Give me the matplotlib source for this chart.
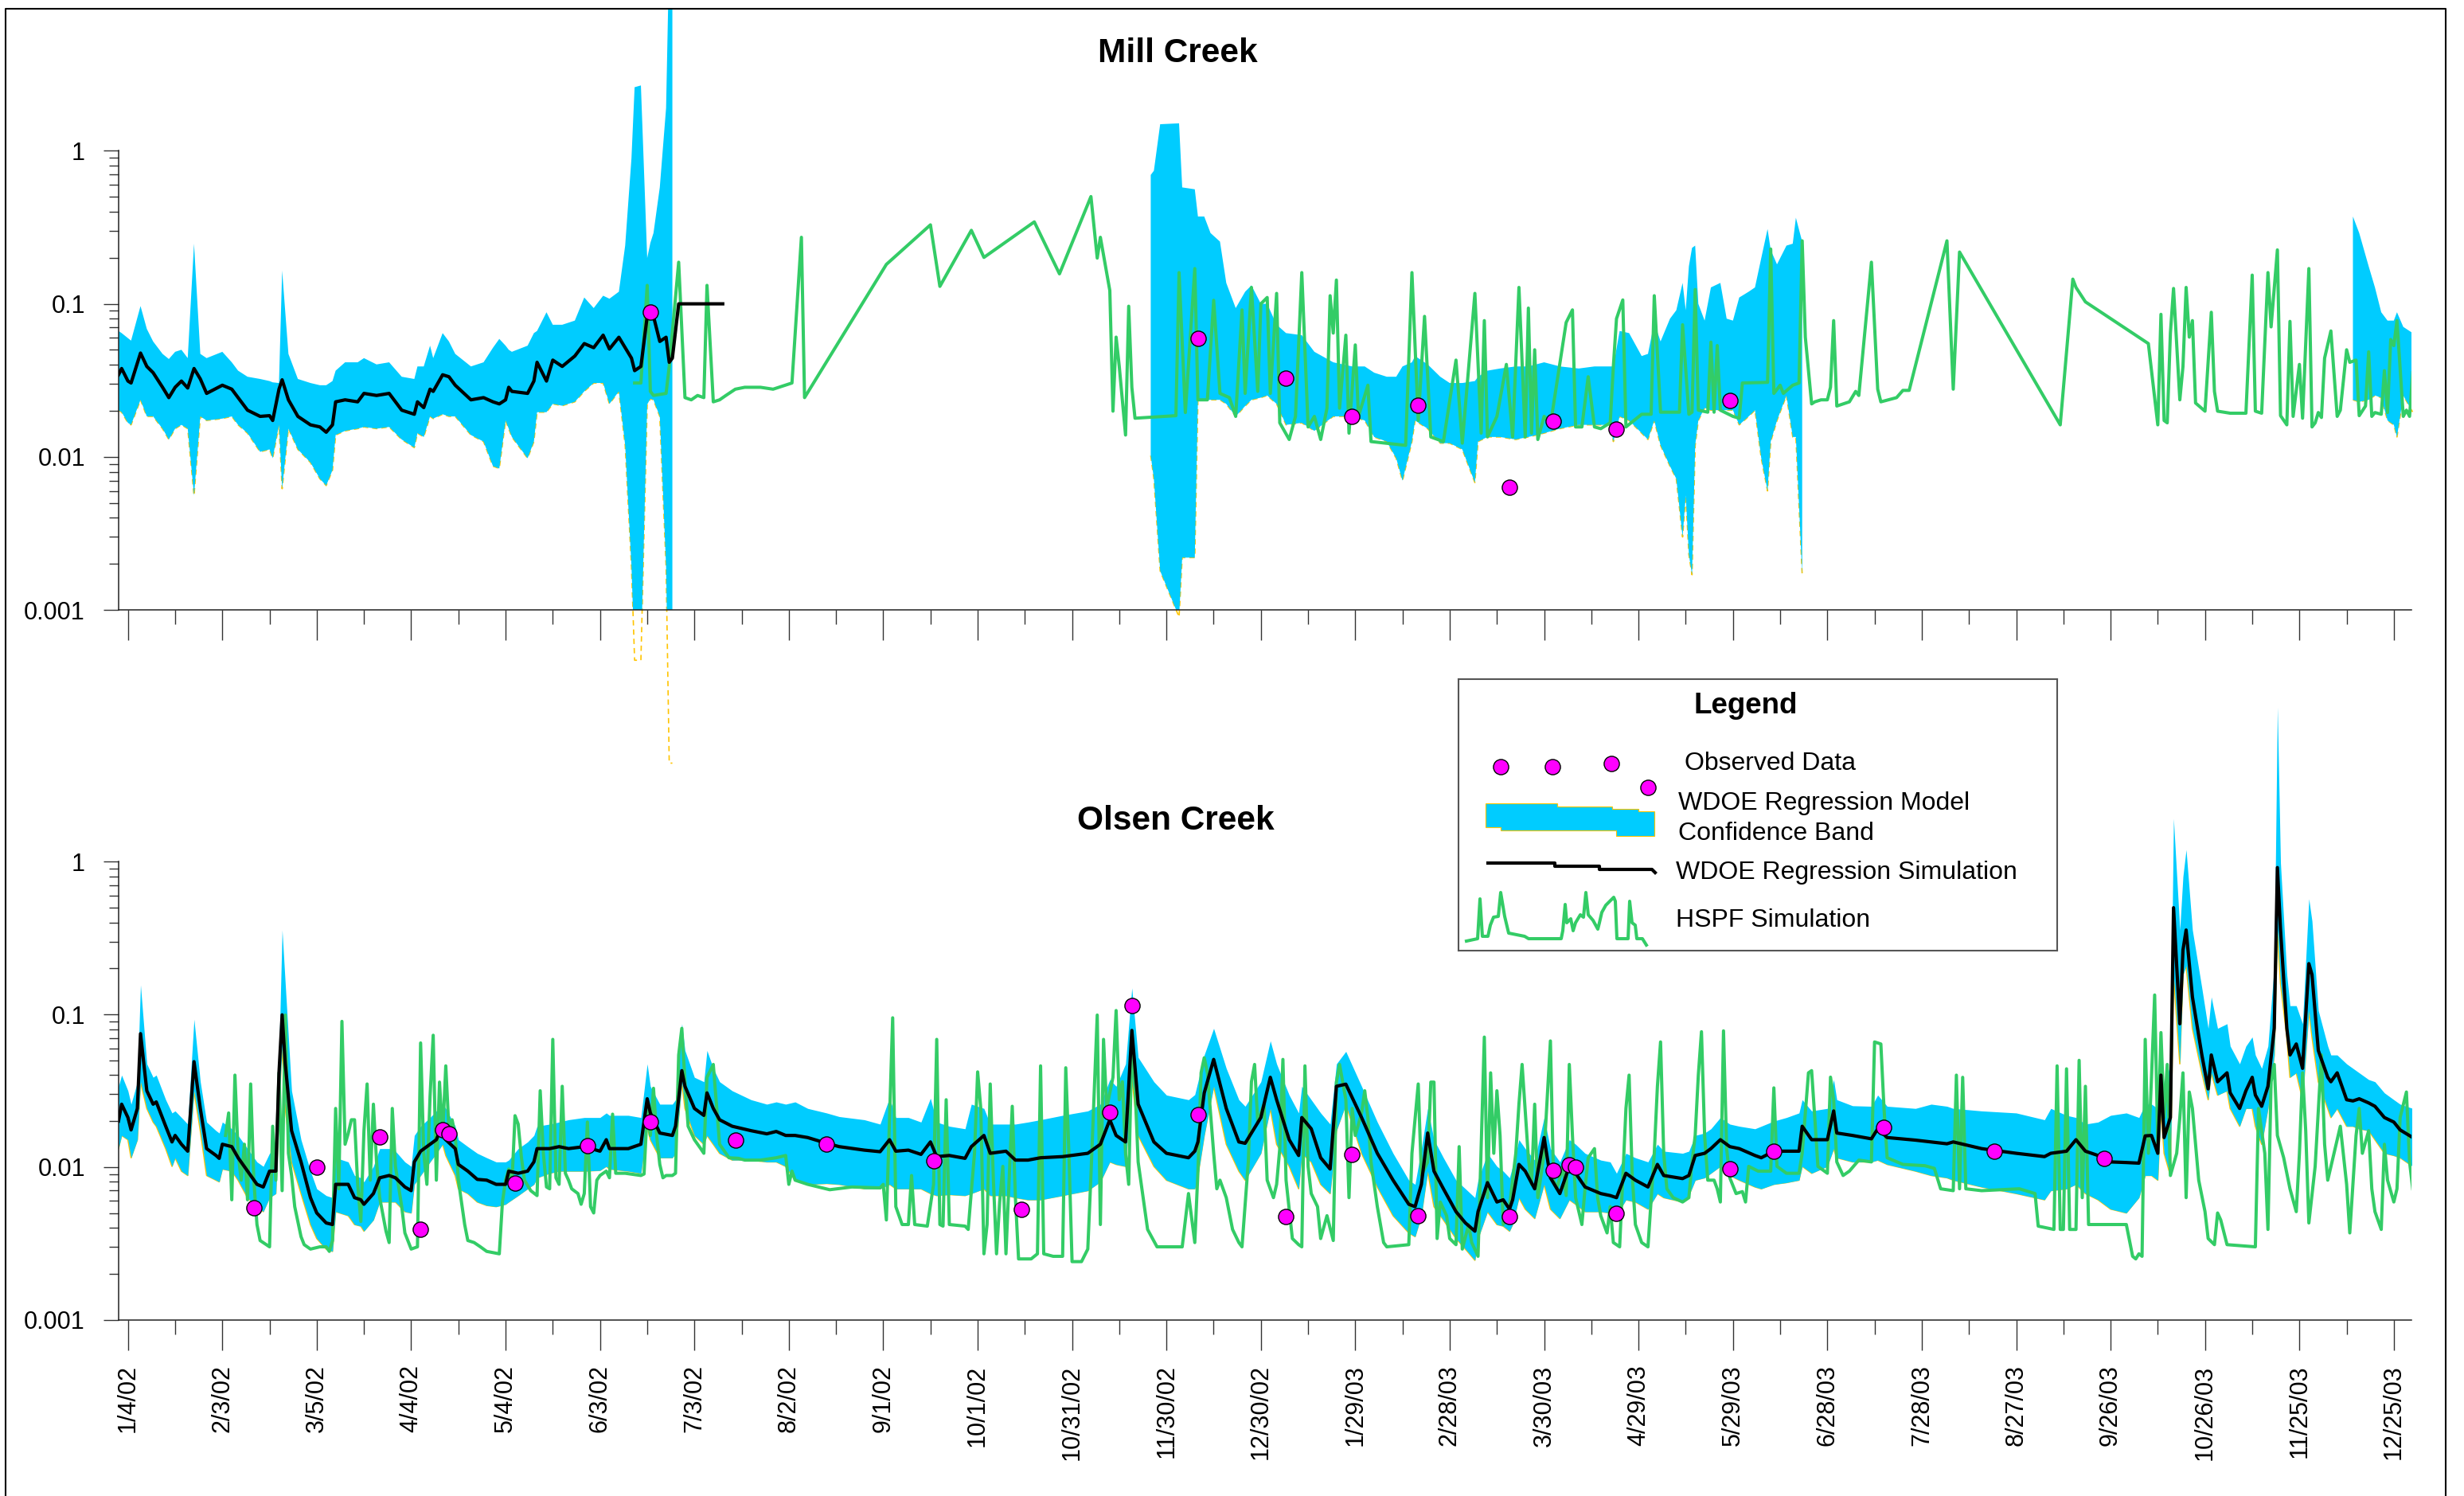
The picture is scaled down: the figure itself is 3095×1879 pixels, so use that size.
import numpy as np
import matplotlib
matplotlib.use("Agg")
import matplotlib.pyplot as plt
from matplotlib.lines import Line2D
from matplotlib.patches import Polygon
from matplotlib.ticker import FixedLocator, NullFormatter

plt.rcParams['font.family'] = ['Liberation Sans', 'DejaVu Sans']

# ---- data (x = days after 1/4/02) ----
X_TICK_DAYS = list(range(0, 721, 30))
X_TICK_LABELS = ['1/4/02', '2/3/02', '3/5/02', '4/4/02', '5/4/02', '6/3/02', '7/3/02',
                 '8/2/02', '9/1/02', '10/1/02', '10/31/02', '11/30/02', '12/30/02',
                 '1/29/03', '2/28/03', '3/30/03', '4/29/03', '5/29/03', '6/28/03',
                 '7/28/03', '8/27/03', '9/26/03', '10/26/03', '11/25/03', '12/25/03']
Y_TICKS = [0.001, 0.01, 0.1, 1]
Y_TICK_LABELS = ['0.001', '0.01', '0.1', '1']

# Mill Creek, regression band + simulation (first part of record)
MILL_DAYS = [-3, -2, 0, 1, 4, 6, 8, 11, 13, 15,
             17, 19, 21, 23, 25, 30, 33, 35, 38, 42,
             45, 46, 48, 49, 51, 54, 58, 61, 63, 65,
             66, 69, 73, 75, 79, 83, 87, 91, 92, 94,
             96, 97, 100, 102, 104, 109, 113, 116, 118, 120,
             121, 122, 127, 129, 130, 133, 135, 138, 142, 145,
             148, 151, 153, 156, 158, 160, 161, 163, 165, 166,
             167, 169, 171, 172, 173]
MILL_HI = [0.0665, 0.0644, 0.0597, 0.0575, 0.0967, 0.0686, 0.0568, 0.0471, 0.0436, 0.0486,
           0.0501, 0.0442, 0.247, 0.0471, 0.0442, 0.0486, 0.0415, 0.0366, 0.0334, 0.0323,
           0.0313, 0.0307, 0.0304, 0.165, 0.0471, 0.0323, 0.0304, 0.0294, 0.0294, 0.0313,
           0.0366, 0.0415, 0.0415, 0.0442, 0.0402, 0.0415, 0.0334, 0.0323, 0.039, 0.039,
           0.0533, 0.0442, 0.0644, 0.0568, 0.0471, 0.039, 0.0415, 0.0517, 0.059, 0.0533,
           0.0501, 0.0486, 0.0533, 0.0644, 0.0665, 0.0881, 0.073, 0.073, 0.0777, 0.11,
           0.0938, 0.113, 0.108, 0.12, 0.24, 0.893, 2.6, 2.67, 0.199, 0.25,
           0.29, 0.576, 1.9, 20, 20]
MILL_SIM = [0.0344, 0.0378, 0.0313, 0.0304, 0.0477, 0.039, 0.0355, 0.0285, 0.0244, 0.0285,
            0.0313, 0.0282, 0.0378, 0.0323, 0.026, 0.0294, 0.0277, 0.0244, 0.0202, 0.0184,
            0.0186, 0.0173, 0.0277, 0.0319, 0.0236, 0.0184, 0.0162, 0.0157, 0.0145, 0.0162,
            0.0229, 0.0236, 0.0229, 0.026, 0.0252, 0.026, 0.0202, 0.019, 0.0229, 0.021,
            0.0277, 0.0268, 0.0344, 0.0334, 0.0294, 0.0236, 0.0244, 0.0229, 0.0222, 0.0236,
            0.0285, 0.0268, 0.026, 0.0313, 0.0415, 0.0313, 0.0429, 0.039, 0.0456, 0.055,
            0.0517, 0.0624, 0.0507, 0.0605, 0.0517, 0.0442, 0.0366, 0.039, 0.0828, 0.087,
            0.0828, 0.0568, 0.0605, 0.0415, 0.0442]
MILL_LO = [0.0202, 0.0196, 0.0167, 0.0162, 0.0236, 0.0184, 0.0184, 0.0153, 0.013, 0.0153,
           0.0162, 0.0153, 0.0056, 0.0184, 0.0173, 0.0178, 0.0184, 0.0162, 0.0143, 0.0108,
           0.0112, 0.0098, 0.0162, 0.0062, 0.0153, 0.0112, 0.0092, 0.0072, 0.0065, 0.0082,
           0.0139, 0.0148, 0.0153, 0.0157, 0.0153, 0.0157, 0.013, 0.0115, 0.0143, 0.0135,
           0.0184, 0.0178, 0.019, 0.0184, 0.0184, 0.0139, 0.0126, 0.0087, 0.0084, 0.0173,
           0.0153, 0.0135, 0.0098, 0.0126, 0.0196, 0.0196, 0.0222, 0.0216, 0.0229, 0.0268,
           0.0304, 0.0304, 0.0222, 0.0268, 0.0119, 0.00193, 0.00047, 0.00047, 0.022, 0.024,
           0.0236, 0.0184, 0.00193, 0.0001, 0.0001]
MILL_SIM_TAIL_DAYS = [175, 189]
MILL_SIM_TAIL = [0.1, 0.1]

# Mill Creek, regression band (later parts of record)
MILL_BAND2_DAYS = [325, 326, 328, 334, 335, 339, 340, 342, 344, 347,
                   349, 352, 355, 357, 360, 362, 365, 368, 373, 377,
                   383, 389, 393, 396, 400, 403, 405, 408, 409, 413,
                   417, 420, 424, 428, 429, 432, 436, 441, 445, 450,
                   455, 461, 466, 471, 472, 474, 477, 481, 483, 485,
                   487, 490, 492, 494, 495, 496, 497, 498, 499, 501,
                   503, 506, 508, 510, 512, 515, 517, 519, 521, 522,
                   524, 527, 529, 530, 532]
MILL_BAND2_HI = [0.695, 0.74, 1.49, 1.51, 0.576, 0.56, 0.372, 0.372, 0.29, 0.255,
                 0.137, 0.0938, 0.12, 0.132, 0.1, 0.1, 0.073, 0.0644, 0.0624, 0.0486,
                 0.0415, 0.039, 0.039, 0.0355, 0.0334, 0.0334, 0.039, 0.0415, 0.0456, 0.0402,
                 0.0334, 0.0304, 0.0304, 0.0313, 0.0334, 0.0366, 0.0378, 0.039, 0.039, 0.0415,
                 0.039, 0.0378, 0.039, 0.039, 0.039, 0.0665, 0.0644, 0.0456, 0.0471, 0.0755,
                 0.0568, 0.08, 0.0908, 0.137, 0.0908, 0.176, 0.232, 0.24, 0.1, 0.0777,
                 0.128, 0.137, 0.08, 0.0777, 0.11, 0.12, 0.128, 0.199, 0.308, 0.225,
                 0.181, 0.24, 0.247, 0.365, 0.255]
MILL_BAND2_LO = [0.0102, 0.0072, 0.0018, 0.0009, 0.0022, 0.0022, 0.0236, 0.0236, 0.0236, 0.0236,
                 0.0222, 0.0184, 0.0215, 0.0236, 0.0244, 0.0252, 0.0222, 0.0162, 0.0167, 0.0148,
                 0.0184, 0.0184, 0.0173, 0.0135, 0.0126, 0.0098, 0.007, 0.0126, 0.0173, 0.0153,
                 0.0123, 0.0123, 0.0112, 0.0068, 0.0126, 0.0135, 0.0135, 0.013, 0.0135, 0.0143,
                 0.0153, 0.0162, 0.0162, 0.0162, 0.0126, 0.0184, 0.0173, 0.0143, 0.013, 0.0173,
                 0.0119, 0.0087, 0.0072, 0.003, 0.0056, 0.0023, 0.0017, 0.0119, 0.0173, 0.0209,
                 0.0202, 0.0202, 0.0202, 0.0202, 0.0162, 0.0184, 0.0202, 0.0098, 0.006, 0.0126,
                 0.0173, 0.0252, 0.0135, 0.0135, 0.0017]
MILL_BAND3_DAYS = [707, 709, 712, 714, 716, 718, 720, 721, 723, 726]
MILL_BAND3_HI = [0.372, 0.29, 0.176, 0.128, 0.0881, 0.0777, 0.0777, 0.0881, 0.0707, 0.0644]
MILL_BAND3_LO = [0.0236, 0.0229, 0.0236, 0.0252, 0.0244, 0.0173, 0.0162, 0.0135, 0.0252, 0.0196]

MILL_HSPF = [(161, 0.0304), (163, 0.0304), (165, 0.132), (166, 0.0268), (167, 0.0252),
             (171, 0.026), (172, 0.039), (175, 0.187), (177, 0.0244), (179, 0.0236),
             (181, 0.0252), (183, 0.0244), (184, 0.132), (186, 0.0229), (188, 0.0236),
             (190, 0.0252), (193, 0.0277), (196, 0.0285), (201, 0.0285), (205, 0.0277),
             (211, 0.0304), (214, 0.272), (215, 0.0244), (241, 0.181), (255, 0.328),
             (258, 0.13), (268, 0.302), (272, 0.201), (288, 0.343), (296, 0.157),
             (306, 0.502), (308, 0.199), (309, 0.272), (312, 0.122), (313, 0.0199),
             (314, 0.0606), (315, 0.039), (317, 0.0139), (318, 0.0965), (319, 0.0285),
             (320, 0.0179), (333, 0.0186), (334, 0.16), (336, 0.0195), (339, 0.17),
             (340, 0.0236), (343, 0.0236), (345, 0.1055), (347, 0.026), (350, 0.0244),
             (352, 0.0184), (354, 0.0913), (355, 0.026), (357, 0.128), (359, 0.0268),
             (360, 0.1), (362, 0.11), (363, 0.026), (365, 0.117), (366, 0.0167),
             (369, 0.013), (371, 0.0184), (373, 0.16), (375, 0.0157), (377, 0.0184),
             (379, 0.013), (381, 0.0208), (382, 0.113), (383, 0.0644), (384, 0.143),
             (385, 0.0208), (387, 0.0624), (388, 0.0143), (390, 0.0539), (391, 0.0184),
             (394, 0.0294), (395, 0.0126), (406, 0.0119), (408, 0.16), (410, 0.0173),
             (412, 0.0828), (414, 0.0135), (418, 0.0126), (422, 0.0429), (424, 0.0123),
             (428, 0.117), (430, 0.0143), (431, 0.0777), (432, 0.0135), (435, 0.0184),
             (438, 0.0402), (440, 0.0135), (442, 0.128), (444, 0.0135), (445, 0.0938),
             (446, 0.0143), (447, 0.0501), (448, 0.013), (450, 0.0184), (452, 0.0162),
             (457, 0.0755), (459, 0.0913), (460, 0.0157), (462, 0.0157), (464, 0.0334),
             (466, 0.0157), (468, 0.0153), (471, 0.0167), (472, 0.039), (473, 0.08),
             (475, 0.106), (476, 0.0157), (481, 0.019), (484, 0.019), (485, 0.113),
             (487, 0.0196), (493, 0.0196), (494, 0.073), (496, 0.019), (497, 0.0196),
             (498, 0.124), (499, 0.0202), (502, 0.0196), (503, 0.0562), (504, 0.0196),
             (505, 0.0534), (506, 0.0202), (510, 0.0184), (512, 0.0179), (513, 0.0304),
             (521, 0.0307), (522, 0.228), (523, 0.026), (525, 0.0294), (526, 0.026),
             (529, 0.0294), (531, 0.0304), (532, 0.258), (533, 0.0606), (535, 0.0222),
             (536, 0.0229), (538, 0.0236), (540, 0.0236), (541, 0.0285), (542, 0.0777),
             (543, 0.0215), (545, 0.0222), (547, 0.0229), (549, 0.0268), (550, 0.0252),
             (554, 0.187), (556, 0.0277), (557, 0.0229), (562, 0.0244), (564, 0.0272),
             (566, 0.0272), (578, 0.258), (580, 0.0277), (582, 0.218), (614, 0.0162),
             (618, 0.145), (619, 0.128), (622, 0.103), (642, 0.055), (645, 0.0162),
             (646, 0.0854), (647, 0.0173), (648, 0.0167), (649, 0.0644), (650, 0.126),
             (652, 0.0236), (653, 0.039), (654, 0.128), (655, 0.0606), (656, 0.0777),
             (657, 0.0225), (660, 0.0199), (662, 0.0881), (663, 0.0268), (664, 0.0199),
             (668, 0.0193), (673, 0.0193), (675, 0.154), (676, 0.0199), (678, 0.0193),
             (680, 0.16), (681, 0.0707), (683, 0.225), (684, 0.0186), (686, 0.0162),
             (687, 0.0768), (688, 0.0184), (690, 0.0402), (691, 0.0179), (693, 0.17),
             (694, 0.0157), (695, 0.0167), (696, 0.0195), (697, 0.0181), (698, 0.0442),
             (700, 0.0665), (702, 0.0184), (703, 0.0202), (705, 0.0501), (706, 0.0415),
             (708, 0.0429), (709, 0.0186), (711, 0.0215), (712, 0.0486), (713, 0.0184),
             (714, 0.0195), (716, 0.019), (717, 0.0366), (718, 0.0195), (719, 0.0585),
             (720, 0.0533), (721, 0.0777), (723, 0.0184), (724, 0.0202), (725, 0.0184),
             (726, 0.0355)]

MILL_OBS = [(166, 0.088), (340, 0.0597), (368, 0.0327), (389, 0.0183), (410, 0.0218),
            (439, 0.00635), (453, 0.0172), (473, 0.0152), (509, 0.0235)]

# Olsen Creek, regression band + simulation
OLSEN_DAYS = [-3, -2, 0, 1, 3, 4, 6, 8, 9, 12,
              14, 15, 17, 19, 21, 23, 25, 28, 29, 30,
              33, 35, 38, 41, 43, 45, 47, 48, 49, 50,
              52, 55, 58, 60, 63, 65, 66, 70, 72, 74,
              75, 78, 80, 83, 85, 88, 90, 91, 93, 96,
              98, 100, 101, 104, 105, 108, 111, 114, 117, 120,
              121, 124, 127, 129, 130, 134, 137, 140, 145, 150,
              152, 153, 159, 163, 165, 166, 169, 173, 174, 176,
              177, 180, 183, 184, 186, 188, 192, 198, 203, 206,
              209,
              212, 216, 222, 226, 234, 239, 242, 244, 248, 252,
              255, 257, 261, 266, 268, 272, 274, 279, 282, 286,
              290, 297, 305, 309, 312, 314, 317, 319, 321, 326,
              330, 337, 339, 340, 342, 345, 349, 353, 355, 360,
              363, 365, 369, 372, 373, 376, 379, 382, 384, 387,
              392, 397, 402, 407, 409, 411, 413, 415, 418, 422,
              425, 428, 429, 432, 435, 437, 439, 440, 442, 444,
              447, 450, 452, 455, 458, 460, 463, 468, 471,
              473, 476, 479, 483, 486, 488, 494, 496, 498, 501,
              503, 506, 509, 512, 517, 519, 523, 527, 531, 532,
              535, 540, 542, 543, 548, 554, 556, 559, 568, 573,
              578, 580, 589, 600, 609, 611, 616, 619, 622, 626,
              630, 635, 639, 641, 643, 645, 646, 647, 649, 650,
              652, 653, 654, 656, 659, 661, 662, 664, 667, 668,
              671, 673, 675, 676, 678, 680, 682, 683, 684, 686,
              687, 689, 691, 693, 694, 696, 699, 700, 702, 705,
              707, 709, 712, 714, 717, 720, 722, 726]
OLSEN_HI = [0.0338, 0.040, 0.0316, 0.0258, 0.0362, 0.156, 0.0474, 0.0387, 0.040, 0.0276,
            0.0226, 0.0233, 0.0211, 0.0191, 0.0929, 0.0362, 0.0197, 0.0173, 0.0167, 0.0197,
            0.0178, 0.0161, 0.0132, 0.0108, 0.0101, 0.0123, 0.0132, 0.0542, 0.357, 0.159,
            0.0316, 0.0151, 0.0094, 0.0072, 0.0065, 0.0063, 0.0115, 0.0108, 0.0088, 0.0085,
            0.008, 0.0101, 0.0132, 0.0132, 0.0127, 0.0108, 0.0101, 0.0161, 0.0185, 0.0211,
            0.0233, 0.0258, 0.0242, 0.0185, 0.0151, 0.0136, 0.0123, 0.0115, 0.0108, 0.0108,
            0.0111, 0.0132, 0.0146, 0.0161, 0.0185, 0.0191, 0.0197, 0.0204, 0.0211, 0.0211,
            0.0226, 0.0218, 0.0218, 0.0211, 0.0474, 0.0338, 0.0258, 0.0258, 0.0276, 0.0868,
            0.058, 0.0387, 0.0362, 0.058, 0.0443, 0.0362, 0.0316, 0.0276, 0.0258, 0.0267,
            0.0258,
            0.0267, 0.0242, 0.0226, 0.0214, 0.0204, 0.0191, 0.0284, 0.0211, 0.0211, 0.0197,
            0.0282, 0.0197, 0.0185, 0.0178, 0.0258, 0.0242, 0.0191, 0.0191, 0.0191, 0.0197,
            0.0204, 0.0218, 0.0233, 0.0258, 0.0374, 0.0338, 0.0474, 0.149, 0.0523, 0.0362,
            0.0296, 0.0276, 0.0298, 0.0362, 0.0542, 0.081, 0.0443, 0.0276, 0.025, 0.0362,
            0.0671, 0.0474, 0.0296, 0.0226, 0.0338, 0.0276, 0.0226, 0.0191, 0.0474, 0.0572,
            0.0338, 0.0197, 0.0123, 0.0082, 0.0077, 0.0132, 0.0242, 0.0151, 0.0115, 0.0082,
            0.0072, 0.0063, 0.0082, 0.0123, 0.0101, 0.0094, 0.0085, 0.0101, 0.0151, 0.0132,
            0.0111, 0.0211, 0.0132, 0.0108, 0.0151, 0.0141, 0.0123, 0.0111, 0.0108,
            0.0091, 0.0123, 0.0115, 0.0108, 0.0141, 0.0127, 0.0123, 0.0127, 0.0161, 0.0167,
            0.0178, 0.0211, 0.0191, 0.0185, 0.0178, 0.0185, 0.020, 0.0211, 0.0226, 0.0276,
            0.0233, 0.0242, 0.0374, 0.0276, 0.0252, 0.025, 0.0296, 0.025, 0.0242, 0.0258,
            0.025, 0.0242, 0.0233, 0.0226, 0.0204, 0.0242, 0.0218, 0.0211, 0.0191, 0.0197,
            0.0218, 0.0226, 0.0211, 0.0258, 0.0258, 0.0242, 0.062, 0.0338, 0.0474, 1.92,
            0.357, 0.80, 1.2, 0.357, 0.149, 0.081, 0.13, 0.081, 0.0868, 0.062,
            0.0474, 0.062, 0.0711, 0.0542, 0.0443, 0.062, 0.209, 10.3, 0.98, 0.182,
            0.114, 0.114, 0.0868, 0.572, 0.409, 0.106, 0.062, 0.0542, 0.0542, 0.0474,
            0.0443, 0.0414, 0.0374, 0.0362, 0.0306, 0.0276, 0.0258, 0.0242]
OLSEN_SIM = [0.020, 0.0258, 0.0211, 0.0175, 0.0242, 0.0748, 0.0316, 0.0258, 0.0267, 0.0185,
             0.0146, 0.0161, 0.0141, 0.0127, 0.049, 0.0242, 0.0132, 0.0119, 0.0114, 0.0141,
             0.0136, 0.0115, 0.0094, 0.0077, 0.0074, 0.0094, 0.0094, 0.0414, 0.0993, 0.0474,
             0.0173, 0.0108, 0.0063, 0.0050, 0.0043, 0.0042, 0.0077, 0.0077, 0.0063, 0.0061,
             0.0057, 0.0067, 0.0085, 0.0088, 0.0085, 0.0074, 0.0070, 0.0108, 0.0127, 0.0141,
             0.0151, 0.0191, 0.0151, 0.0132, 0.0104, 0.0094, 0.0083, 0.0082, 0.0077, 0.0077,
             0.0094, 0.0091, 0.0094, 0.0108, 0.0132, 0.0132, 0.0136, 0.0132, 0.0136, 0.0127,
             0.0151, 0.0132, 0.0132, 0.0141, 0.028, 0.0226, 0.0167, 0.0161, 0.0185, 0.0428,
             0.0338, 0.0242, 0.0218, 0.0306, 0.0242, 0.0204, 0.0185, 0.0173, 0.0165, 0.0171,
             0.0161,
             0.0161, 0.0156, 0.0143, 0.0136, 0.0129, 0.0126, 0.0151, 0.0127, 0.0129, 0.0121,
             0.0146, 0.0117, 0.0119, 0.0114, 0.0136, 0.0161, 0.0123, 0.0127, 0.0111, 0.0111,
             0.0115, 0.0117, 0.0123, 0.0141, 0.0204, 0.0161, 0.0146, 0.0785, 0.0258, 0.0146,
             0.0123, 0.0115, 0.0127, 0.0146, 0.0306, 0.0507, 0.0242, 0.0146, 0.0143, 0.0211,
             0.0387, 0.0276, 0.0151, 0.0119, 0.0211, 0.0178, 0.0115, 0.0097, 0.0338, 0.0349,
             0.0211, 0.0123, 0.0082, 0.0057, 0.0055, 0.0077, 0.0167, 0.0094, 0.0072, 0.0051,
             0.0043, 0.0038, 0.0051, 0.0079, 0.0059, 0.0061, 0.0053, 0.0061, 0.0104, 0.0094,
             0.0072, 0.0156, 0.0085, 0.0067, 0.0101, 0.0091, 0.0074, 0.0067, 0.0065,
             0.0063, 0.0091, 0.0082, 0.0074, 0.0104, 0.0088, 0.0084, 0.0088, 0.0119, 0.0123,
             0.0132, 0.0151, 0.0136, 0.0132, 0.0119, 0.0115, 0.0127, 0.0127, 0.0127, 0.0185,
             0.0151, 0.0151, 0.0233, 0.0167, 0.0161, 0.0153, 0.0178, 0.0156, 0.0150, 0.0146,
             0.0142, 0.0146, 0.0132, 0.0123, 0.0117, 0.0123, 0.0127, 0.0151, 0.0127, 0.0119,
             0.0108, 0.0107, 0.0106, 0.016, 0.0161, 0.0123, 0.040, 0.0156, 0.0211, 0.50,
             0.0868, 0.264, 0.357, 0.13, 0.0542, 0.0325, 0.0542, 0.0362, 0.0414, 0.0306,
             0.0242, 0.0316, 0.0387, 0.0296, 0.025, 0.0338, 0.0812, 0.916, 0.357, 0.0812,
             0.0542, 0.064, 0.0443, 0.215, 0.182, 0.058, 0.0387, 0.0362, 0.0414, 0.0276,
             0.0271, 0.028, 0.0263, 0.025, 0.0211, 0.0197, 0.0175, 0.0156]
OLSEN_LO = [0.0132, 0.0161, 0.0151, 0.0115, 0.0151, 0.0362, 0.0242, 0.0197, 0.0185, 0.0132,
            0.0101, 0.0115, 0.0094, 0.0088, 0.0316, 0.0173, 0.0088, 0.0082, 0.0080, 0.0097,
            0.0094, 0.0082, 0.0063, 0.0055, 0.0051, 0.0063, 0.0067, 0.0242, 0.062, 0.0242,
            0.0108, 0.0067, 0.0042, 0.0034, 0.0029, 0.0028, 0.0051, 0.0048, 0.0042, 0.0041,
            0.0038, 0.0045, 0.0059, 0.0059, 0.0059, 0.0051, 0.0050, 0.0077, 0.0088, 0.0108,
            0.0123, 0.0141, 0.0119, 0.0088, 0.0072, 0.0067, 0.0059, 0.0056, 0.0055, 0.0057,
            0.0059, 0.0065, 0.0072, 0.0077, 0.0085, 0.0091, 0.0094, 0.0094, 0.0094, 0.0095,
            0.0101, 0.0097, 0.0094, 0.0091, 0.0185, 0.0151, 0.0115, 0.0115, 0.0123, 0.0362,
            0.0242, 0.0161, 0.0141, 0.0161, 0.0141, 0.0123, 0.0111, 0.0111, 0.0108, 0.0108,
            0.0101,
            0.0082, 0.0077, 0.0078, 0.0077, 0.0072, 0.0072, 0.0077, 0.0072, 0.0072, 0.0072,
            0.0067, 0.0065, 0.0066, 0.0065, 0.0067, 0.0072, 0.0065, 0.0065, 0.0063, 0.0061,
            0.0061, 0.0065, 0.0070, 0.0080, 0.0108, 0.0104, 0.0101, 0.0387, 0.0161, 0.0101,
            0.0082, 0.0072, 0.0072, 0.0088, 0.0161, 0.0338, 0.0141, 0.0094, 0.0082, 0.0123,
            0.0242, 0.0141, 0.0101, 0.0072, 0.0123, 0.0108, 0.0077, 0.0067, 0.0173, 0.0258,
            0.0123, 0.0074, 0.0048, 0.0037, 0.0035, 0.0048, 0.0094, 0.0055, 0.0045, 0.0034,
            0.0029, 0.00245, 0.0034, 0.0051, 0.0042, 0.0041, 0.0038, 0.0042, 0.0063, 0.0053,
            0.0046, 0.0077, 0.0053, 0.0046, 0.0061, 0.0057, 0.0051, 0.0051, 0.0050,
            0.0048, 0.0061, 0.0059, 0.0053, 0.0067, 0.0063, 0.0059, 0.0065, 0.0082, 0.0085,
            0.0091, 0.0101, 0.0088, 0.0082, 0.0074, 0.0072, 0.0077, 0.0079, 0.0082, 0.0101,
            0.0091, 0.0101, 0.0132, 0.0115, 0.0108, 0.0108, 0.0111, 0.0104, 0.0094, 0.0088,
            0.0085, 0.0082, 0.0074, 0.0067, 0.0061, 0.0070, 0.0072, 0.0077, 0.0067, 0.0061,
            0.0053, 0.0050, 0.0063, 0.0088, 0.0088, 0.0082, 0.0242, 0.0123, 0.0088, 0.182,
            0.0474, 0.182, 0.209, 0.081, 0.0414, 0.0276, 0.0414, 0.0296, 0.0316, 0.0242,
            0.0185, 0.0242, 0.0242, 0.0185, 0.0141, 0.0242, 0.0542, 0.357, 0.159, 0.0711,
            0.0387, 0.0414, 0.0276, 0.106, 0.0711, 0.0362, 0.0242, 0.0211, 0.0242, 0.0185,
            0.0185, 0.0178, 0.0173, 0.0151, 0.0123, 0.0119, 0.0115, 0.0101]

OLSEN_HSPF = [(31, 0.0161), (32, 0.0226), (33, 0.0061), (34, 0.040), (35, 0.0123),
              (36, 0.0082), (37, 0.0141), (38, 0.0061), (39, 0.035), (40, 0.0082),
              (41, 0.0042), (42, 0.0033), (44, 0.0031), (45, 0.003), (46, 0.0185),
              (47, 0.0082), (48, 0.0414), (49, 0.0070), (50, 0.099), (51, 0.0123),
              (52, 0.0088), (53, 0.0055), (55, 0.0035), (56, 0.0031), (58, 0.0029),
              (61, 0.003), (63, 0.003), (64, 0.0028), (65, 0.0033), (66, 0.0242),
              (67, 0.0072), (68, 0.090), (69, 0.0141), (70, 0.0166), (71, 0.0204),
              (72, 0.0204), (73, 0.0077), (74, 0.0044), (75, 0.0173), (76, 0.035),
              (77, 0.0082), (78, 0.0258), (79, 0.0108), (80, 0.0063), (82, 0.0038),
              (83, 0.0032), (84, 0.0242), (85, 0.0101), (87, 0.0055), (88, 0.0037),
              (90, 0.0029), (92, 0.003), (93, 0.065), (94, 0.0123), (95, 0.0077),
              (96, 0.029), (97, 0.073), (98, 0.0082), (99, 0.036), (100, 0.0161),
              (101, 0.046), (102, 0.0175), (103, 0.0204), (104, 0.0161), (105, 0.0082),
              (107, 0.0042), (108, 0.0033), (110, 0.0032), (112, 0.003), (114, 0.0028),
              (118, 0.0027), (119, 0.0059), (120, 0.0082), (121, 0.0097), (122, 0.0077),
              (123, 0.0217), (124, 0.0191), (125, 0.0117), (126, 0.0082), (128, 0.0070),
              (130, 0.0065), (131, 0.0316), (132, 0.0123), (133, 0.0074), (134, 0.0072),
              (135, 0.0686), (136, 0.0085), (137, 0.0077), (138, 0.0338), (139, 0.0091),
              (140, 0.0082), (141, 0.0072), (143, 0.0067), (144, 0.0057), (145, 0.0067),
              (146, 0.0197), (147, 0.0055), (148, 0.0050), (149, 0.0082), (150, 0.0088),
              (152, 0.0094), (153, 0.0085), (154, 0.0222), (155, 0.0091), (158, 0.0091),
              (163, 0.0088), (164, 0.009), (165, 0.0233), (166, 0.0161), (167, 0.0328),
              (168, 0.0161), (169, 0.0104), (170, 0.0085), (171, 0.0088), (173, 0.0088),
              (174, 0.0091), (175, 0.0542), (176, 0.081), (177, 0.0362), (178, 0.0185),
              (180, 0.0151), (182, 0.0132), (183, 0.0123), (184, 0.0387), (186, 0.047),
              (188, 0.0141), (190, 0.0123), (191, 0.0115), (194, 0.0114), (196, 0.0111),
              (201, 0.0111), (206, 0.0115), (209, 0.0119), (210, 0.0077), (211, 0.0094),
              (212, 0.0082), (216, 0.0077), (223, 0.0071), (230, 0.0074), (239, 0.0073),
              (240, 0.0077), (241, 0.0045), (243, 0.095), (244, 0.0055), (246, 0.0042),
              (248, 0.0042), (249, 0.0088), (250, 0.0042), (254, 0.0041), (256, 0.0077),
              (257, 0.0686), (258, 0.0042), (259, 0.0041), (260, 0.0276), (261, 0.0042),
              (266, 0.0041), (267, 0.0039), (269, 0.0123), (270, 0.042), (271, 0.0242),
              (272, 0.0027), (273, 0.0042), (274, 0.035), (275, 0.0082), (276, 0.0027),
              (277, 0.0059), (278, 0.0101), (279, 0.0027), (281, 0.025), (282, 0.0063),
              (283, 0.0025), (287, 0.0025), (289, 0.0027), (290, 0.046), (291, 0.0027),
              (294, 0.0026), (297, 0.0026), (298, 0.0447), (299, 0.0123), (300, 0.0024),
              (303, 0.0024), (305, 0.0029), (306, 0.0088), (308, 0.099), (309, 0.0042),
              (310, 0.0686), (311, 0.0242), (313, 0.0387), (314, 0.106), (315, 0.0276),
              (316, 0.0362), (317, 0.0123), (318, 0.0077), (319, 0.066), (320, 0.0338),
              (321, 0.0108), (324, 0.0039), (327, 0.003), (335, 0.003), (337, 0.0067),
              (339, 0.0032), (340, 0.0094), (341, 0.0414), (342, 0.052), (343, 0.0414),
              (345, 0.0123), (346, 0.0072), (347, 0.0082), (349, 0.0063), (351, 0.0039),
              (353, 0.0032), (354, 0.003), (356, 0.0108), (357, 0.0362), (358, 0.047),
              (359, 0.0197), (361, 0.0258), (362, 0.0082), (364, 0.0063), (365, 0.0077),
              (366, 0.0132), (367, 0.0507), (368, 0.0082), (370, 0.0034), (372, 0.0031),
              (373, 0.003), (374, 0.046), (375, 0.0101), (376, 0.0067), (378, 0.0055),
              (379, 0.0034), (381, 0.0048), (383, 0.0033), (384, 0.036), (385, 0.047),
              (387, 0.0276), (388, 0.0063), (389, 0.0242), (390, 0.0161), (392, 0.0226),
              (393, 0.0316), (394, 0.0211), (395, 0.0108), (397, 0.0055), (399, 0.0032),
              (400, 0.003), (407, 0.0031), (408, 0.0123), (410, 0.035), (411, 0.0088),
              (413, 0.0108), (414, 0.036), (415, 0.036), (416, 0.0034), (417, 0.0059),
              (419, 0.0048), (420, 0.0034), (422, 0.0031), (423, 0.0136), (424, 0.0029),
              (426, 0.0042), (427, 0.0032), (429, 0.0026), (431, 0.071), (432, 0.0063),
              (433, 0.0414), (434, 0.0123), (435, 0.0316), (436, 0.0161), (437, 0.0042),
              (439, 0.0055), (441, 0.0123), (442, 0.0258), (443, 0.047), (445, 0.0115),
              (446, 0.0077), (447, 0.0258), (448, 0.0063), (450, 0.0123), (452, 0.067),
              (453, 0.0082), (454, 0.0072), (456, 0.0101), (457, 0.0065), (458, 0.047),
              (459, 0.0161), (460, 0.0063), (462, 0.0042), (463, 0.0072), (464, 0.0115),
              (466, 0.0132), (467, 0.0063), (468, 0.0048), (470, 0.0037), (471, 0.0055),
              (472, 0.0032), (474, 0.003), (476, 0.0242), (477, 0.040), (478, 0.0088),
              (479, 0.0042), (481, 0.0032), (483, 0.003), (485, 0.0123), (486, 0.0338),
              (487, 0.066), (488, 0.0123), (489, 0.0072), (491, 0.0063), (494, 0.0059),
              (496, 0.0063), (497, 0.0108), (498, 0.0161), (499, 0.040), (500, 0.077),
              (501, 0.0161), (502, 0.0082), (504, 0.0082), (505, 0.0072), (506, 0.0059),
              (507, 0.078), (508, 0.0132), (509, 0.0085), (511, 0.0067), (513, 0.0069),
              (514, 0.0059), (515, 0.0101), (518, 0.0094), (522, 0.0094), (523, 0.033),
              (524, 0.0101), (527, 0.0091), (531, 0.0091), (532, 0.0123), (534, 0.0414),
              (535, 0.0428), (536, 0.0211), (537, 0.0101), (540, 0.0091), (541, 0.0388),
              (542, 0.0276), (543, 0.0108), (545, 0.0088), (547, 0.0094), (550, 0.0111),
              (554, 0.0108), (555, 0.066), (557, 0.064), (558, 0.0242), (559, 0.0115),
              (564, 0.0104), (571, 0.0102), (574, 0.0098), (576, 0.0072), (580, 0.0070),
              (581, 0.040), (582, 0.0072), (583, 0.0387), (584, 0.0072), (589, 0.0070),
              (601, 0.0072), (606, 0.0067), (607, 0.0041), (612, 0.0039), (613, 0.046),
              (614, 0.0039), (615, 0.0039), (616, 0.044), (617, 0.0039), (619, 0.0039),
              (620, 0.050), (621, 0.0063), (622, 0.0338), (623, 0.0042), (635, 0.0042),
              (637, 0.0026), (638, 0.0025), (639, 0.0027), (640, 0.0026), (641, 0.0686),
              (642, 0.0123), (643, 0.0387), (644, 0.134), (645, 0.0141), (646, 0.076),
              (647, 0.0211), (648, 0.047), (649, 0.0088), (651, 0.0123), (652, 0.0211),
              (653, 0.0414), (654, 0.0063), (655, 0.031), (656, 0.0242), (658, 0.0082),
              (660, 0.0051), (661, 0.0034), (663, 0.0031), (664, 0.0050), (665, 0.0045),
              (667, 0.0031), (676, 0.003), (677, 0.0242), (679, 0.0123), (680, 0.0039),
              (681, 0.0362), (682, 0.047), (683, 0.0161), (685, 0.0115), (687, 0.0072),
              (689, 0.0051), (690, 0.0123), (691, 0.0414), (692, 0.0173), (693, 0.0043),
              (695, 0.0101), (697, 0.0542), (698, 0.0141), (699, 0.0082), (701, 0.0123),
              (703, 0.0185), (705, 0.0077), (706, 0.0037), (708, 0.0161), (709, 0.0242),
              (710, 0.0123), (712, 0.0173), (713, 0.0072), (714, 0.0051), (716, 0.0039),
              (717, 0.0141), (718, 0.0082), (720, 0.0059), (721, 0.0072), (722, 0.0211),
              (724, 0.031), (725, 0.0108), (726, 0.0072)]

OLSEN_OBS = [(40, 0.00538), (60, 0.0100), (80, 0.0158), (93, 0.00392), (100, 0.0175),
             (102, 0.0166), (123, 0.00785), (146, 0.0138), (166, 0.0197), (193, 0.0150),
             (222, 0.0141), (256, 0.0110), (284, 0.00527), (312, 0.0229), (319, 0.114),
             (340, 0.0220), (368, 0.00471), (389, 0.0121), (410, 0.00480), (439, 0.00471),
             (453, 0.00955), (458, 0.0104), (460, 0.0100), (473, 0.00500), (509, 0.00973),
             (523, 0.0127), (558, 0.0181), (593, 0.0127), (628, 0.0114)]

assert len(MILL_DAYS) == len(MILL_HI) == len(MILL_SIM) == len(MILL_LO)
assert len(MILL_BAND2_DAYS) == len(MILL_BAND2_HI) == len(MILL_BAND2_LO)
assert len(OLSEN_DAYS) == len(OLSEN_HI) == len(OLSEN_SIM) == len(OLSEN_LO)

# ---- style ----
BAND = '#00CCFF'
EDGE = '#FFC400'
GREEN = '#33CC66'
DOT = '#FF00FF'
SIM_LW = 3.0
HSPF_LW = 2.9
W, H = 3095, 1879
X_MIN, X_MAX = -3.06, 725.6


def style_axis(ax, ytop, labels):
    ax.set_yscale('log')
    ax.set_xlim(X_MIN, X_MAX)
    ax.set_ylim(0.001, ytop)
    ax.patch.set_visible(False)
    ax.spines['top'].set_visible(False)
    ax.spines['right'].set_visible(False)
    ax.spines['left'].set_bounds(0.001, 1)
    for s in ('left', 'bottom'):
        ax.spines[s].set_linewidth(1.1)
        ax.spines[s].set_color('#222222')
    ax.yaxis.set_major_locator(FixedLocator(Y_TICKS))
    ax.set_yticklabels(Y_TICK_LABELS)
    minors = [k * 10.0 ** e for e in (-3, -2, -1) for k in range(2, 10)]
    ax.yaxis.set_minor_locator(FixedLocator(minors))
    ax.yaxis.set_minor_formatter(NullFormatter())
    ax.tick_params(axis='y', which='major', length=14, width=1, color='#333333',
                   labelsize=22, pad=16)
    ax.tick_params(axis='y', which='minor', length=9, width=1, color='#333333')
    ax.set_xticks(X_TICK_DAYS)
    ax.set_xticks([d + 15 for d in X_TICK_DAYS[:-1]], minor=True)
    if labels:
        ax.set_xticklabels(X_TICK_LABELS, rotation=90)
    else:
        ax.set_xticklabels([])
    ax.tick_params(axis='x', which='major', length=27, width=1, color='#333333',
                   labelsize=22, pad=14)
    ax.tick_params(axis='x', which='minor', length=13, width=1, color='#333333')


fig = plt.figure(figsize=(W / 100, H / 100), dpi=100)

# outer frame
fig.add_artist(Line2D([7 / W, 7 / W, 3072 / W, 3072 / W], [0, 1 - 10.5 / H, 1 - 10.5 / H, 0],
                      transform=fig.transFigure, color='k', lw=1.5))

# ---- Mill Creek ----
ax1 = fig.add_axes([148.6 / W, 1 - 766.2 / H, (3029 - 148.6) / W, (766.2 - 10.5) / H])
style_axis(ax1, 8.51, False)

nan = [np.nan]
band_d = MILL_DAYS + nan + MILL_BAND2_DAYS + nan + MILL_BAND3_DAYS
band_hi = np.array(MILL_HI + nan + MILL_BAND2_HI + nan + MILL_BAND3_HI, dtype=float)
band_lo = np.array(MILL_LO + nan + MILL_BAND2_LO + nan + MILL_BAND3_LO, dtype=float)
ax1.plot(band_d, band_lo, color=EDGE, lw=1.2, ls=(0, (4, 3)), zorder=1, clip_on=False)
ax1.fill_between(band_d, band_lo, band_hi, color=BAND, lw=0, zorder=2)
hd, hv = zip(*MILL_HSPF)
ax1.plot(hd, hv, color=GREEN, lw=HSPF_LW, zorder=3)
ax1.plot(MILL_DAYS + MILL_SIM_TAIL_DAYS, MILL_SIM + MILL_SIM_TAIL, color='k', lw=SIM_LW, zorder=4)
od, ov = zip(*MILL_OBS)
ax1.plot(od, ov, 'o', ms=13.8, mfc=DOT, mec='k', mew=1, zorder=5, ls='none')

fig.text(1479 / W, 1 - 67 / H, 'Mill Creek', ha='center', va='center',
         fontsize=30.5, fontweight='bold')

# ---- Olsen Creek ----
ax2 = fig.add_axes([148.6 / W, 1 - 1657.5 / H, (3029 - 148.6) / W, (1657.5 - 850) / H])
style_axis(ax2, 16.3, True)
ax2.plot(OLSEN_DAYS, OLSEN_LO, color=EDGE, lw=1.2, zorder=1)
ax2.fill_between(OLSEN_DAYS, OLSEN_LO, OLSEN_HI, color=BAND, lw=0, zorder=2)
hd, hv = zip(*OLSEN_HSPF)
ax2.plot(hd, hv, color=GREEN, lw=HSPF_LW, zorder=3)
ax2.plot(OLSEN_DAYS, OLSEN_SIM, color='k', lw=SIM_LW, zorder=4)
od, ov = zip(*OLSEN_OBS)
ax2.plot(od, ov, 'o', ms=13.8, mfc=DOT, mec='k', mew=1, zorder=5, ls='none')

fig.text(1477 / W, 1 - 1031 / H, 'Olsen Creek', ha='center', va='center',
         fontsize=30.5, fontweight='bold')

# ---- legend box (drawn in box pixels) ----
lg = fig.add_axes([1832 / W, 1 - 1194 / H, 752 / W, 341 / H])
lg.set_xlim(0, 752)
lg.set_ylim(341, 0)
lg.set_xticks([])
lg.set_yticks([])
for s in lg.spines.values():
    s.set_linewidth(1.5)
    s.set_color('#555555')
lg.text(361, 33, 'Legend', ha='center', va='center', fontsize=26.5, fontweight='bold')
lg.plot([53, 118, 192, 238], [110, 110, 106, 136], 'o', ms=13.8, mfc=DOT, mec='k', mew=1, ls='none')
lg.add_patch(Polygon([(34, 156), (124, 156), (124, 160), (193, 160), (193, 163), (226, 163),
                      (226, 166), (246, 166), (246, 197), (198, 197), (198, 190), (53, 190),
                      (53, 186), (34, 186)], closed=True, fc=BAND, ec=EDGE, lw=0.8))
lg.plot([37, 121, 121, 177, 177, 243, 247], [231, 231, 235, 235, 239, 239, 243], color='k', lw=SIM_LW)
lg.plot([10, 24, 27, 30, 37, 40, 44, 50, 53, 58, 63, 83, 88, 129, 131, 134, 136, 141, 144, 147,
         153, 157, 160, 163, 169, 175, 177, 180, 185, 190, 195, 197, 199, 213, 215, 218, 222,
         224, 231, 236],
        [329, 326, 276, 323, 323, 309, 299, 298, 268, 298, 319, 323, 326, 326, 316, 283, 306,
         301, 316, 306, 296, 299, 268, 296, 303, 314, 306, 293, 284, 279, 274, 279, 326, 326,
         279, 306, 309, 326, 326, 334], color=GREEN, lw=HSPF_LW)
lg.text(284, 106, 'Observed Data', va='center', fontsize=23)
lg.text(276, 156, 'WDOE Regression Model', va='center', fontsize=23)
lg.text(276, 194, 'Confidence Band', va='center', fontsize=23)
lg.text(273, 243, 'WDOE Regression Simulation', va='center', fontsize=23)
lg.text(273, 303, 'HSPF Simulation', va='center', fontsize=23)

fig.savefig('out.png', dpi=100)
